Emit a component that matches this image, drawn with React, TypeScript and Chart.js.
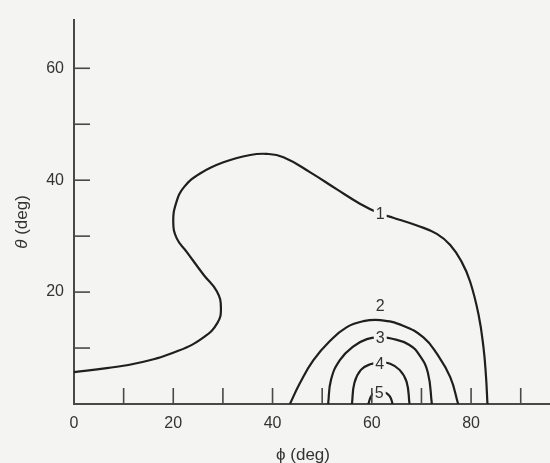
import React, { useEffect, useRef } from 'react';
import { Chart, registerables } from 'chart.js';

Chart.register(...registerables);

// Contour 1 (phi, theta in degrees)
const phi1 = [0, 6.6, 13.8, 21.0, 26.1, 28.9, 29.6, 28.8, 26.1, 22.7, 20.7, 20.0, 20.6, 22.2, 25.4, 30.1, 35.5, 38.8, 42.2, 47.6, 52.9, 57.6, 61.7, 64.3, 69.1, 73.1, 75.8, 78.1, 79.8, 81.5, 82.5, 83.0, 83.3];
const theta1 = [5.7, 6.4, 7.5, 9.5, 11.9, 14.5, 17.2, 20.1, 23.1, 27.2, 29.6, 32.5, 36.0, 38.8, 41.2, 43.2, 44.5, 44.7, 44.1, 41.4, 38.4, 35.8, 34.0, 33.3, 31.9, 30.4, 28.4, 25.4, 21.9, 16.0, 10.1, 5.0, 0];
// Contour 2
const phi2 = [43.5, 45.5, 48.2, 51.6, 54.9, 58.3, 61.7, 66.3, 70.4, 73.1, 75.8, 77.4];
const theta2 = [0, 3.7, 7.8, 11.3, 13.7, 14.8, 15.0, 14.0, 11.9, 9.0, 4.8, 0];
// Contour 3
const phi3 = [51.2, 51.8, 53.6, 56.3, 59.0, 61.7, 63.9, 67.5, 69.7, 71.3, 72.1];
const theta3 = [0, 4.4, 7.9, 10.3, 11.6, 11.9, 11.7, 10.6, 8.6, 5.6, 0];
// Contour 4
const phi4 = [56.0, 56.5, 57.8, 59.7, 61.7, 63.7, 65.6, 67.0, 67.6];
const theta4 = [0, 3.8, 6.1, 7.1, 7.4, 7.2, 6.1, 4.0, 0];
// Contour 5
const phi5 = [59.3, 60.0, 61.3, 62.4, 63.6, 64.2];
const theta5 = [0, 1.6, 2.3, 2.2, 1.4, 0];

// Contour labels
const labelText = ['1', '2', '3', '4', '5'];
const labelPhi = [61.7, 61.7, 61.7, 61.6, 61.5];
const labelTheta = [34.0, 17.6, 11.8, 7.2, 2.1];

// Axes
const xMin = 0;
const xMax = 95.9;
const yMin = 0;
const yMax = 68.7;
const tickStep = 10;
const labelStep = 20;
const xSymbol = 'ϕ';
const ySymbol = 'θ';
const unitText = ' (deg)';

const BG = '#f4f4f2';
const INK = '#1f1f1f';
const AXIS = '#484848';
const TEXT = '#333333';
const FONT = '"Liberation Sans", Arial, sans-serif';

function drawTitle(ctx: CanvasRenderingContext2D, sym: string, italicSym: boolean, cx: number, cy: number) {
  const symFont = `${italicSym ? 'italic ' : ''}17px ${FONT}`;
  const unitFont = `17px ${FONT}`;
  ctx.font = symFont;
  const w1 = ctx.measureText(sym).width;
  ctx.font = unitFont;
  const w2 = ctx.measureText(unitText).width;
  const start = cx - (w1 + w2) / 2;
  ctx.textAlign = 'left';
  ctx.textBaseline = 'middle';
  ctx.font = symFont;
  ctx.fillText(sym, start, cy);
  ctx.font = unitFont;
  ctx.fillText(unitText, start + w1, cy);
}

const decorPlugin = {
  id: 'decor',
  afterDatasetsDraw(chart: any) {
    const { ctx, scales } = chart;
    const xs = scales.x;
    const ys = scales.y;
    ctx.save();
    ctx.font = `16px ${FONT}`;
    ctx.textAlign = 'center';
    ctx.textBaseline = 'middle';
    labelText.forEach((t, i) => {
      const px = xs.getPixelForValue(labelPhi[i]);
      const py = ys.getPixelForValue(labelTheta[i]);
      const w = ctx.measureText(t).width + 4;
      ctx.fillStyle = BG;
      ctx.fillRect(px - w / 2, py - 7, w, 14);
      ctx.fillStyle = TEXT;
      ctx.fillText(t, px, py + 1);
    });
    ctx.restore();
  },
  afterDraw(chart: any) {
    const { ctx, scales, chartArea } = chart;
    const xs = scales.x;
    const ys = scales.y;
    ctx.save();
    ctx.strokeStyle = AXIS;
    ctx.lineWidth = 1.6;
    const len = 16;
    xs.ticks.forEach((t: any) => {
      if (t.value > 0 && t.value % tickStep === 0) {
        const px = xs.getPixelForValue(t.value);
        ctx.beginPath();
        ctx.moveTo(px, chartArea.bottom);
        ctx.lineTo(px, chartArea.bottom - len);
        ctx.stroke();
      }
    });
    ys.ticks.forEach((t: any) => {
      if (t.value > 0 && t.value % tickStep === 0) {
        const py = ys.getPixelForValue(t.value);
        ctx.beginPath();
        ctx.moveTo(chartArea.left, py);
        ctx.lineTo(chartArea.left + len, py);
        ctx.stroke();
      }
    });
    // axis titles
    ctx.fillStyle = TEXT;
    drawTitle(ctx, xSymbol, false, 303, 455);
    ctx.translate(22, 222);
    ctx.rotate(-Math.PI / 2);
    drawTitle(ctx, ySymbol, true, 0, 0);
    ctx.restore();
  },
};

export default function App() {
  const ref = useRef<HTMLCanvasElement>(null);
  useEffect(() => {
    document.body.style.margin = '0';
    const pts = (xs: number[], ys: number[]) => xs.map((x, i) => ({ x, y: ys[i] }));
    const curves = [
      pts(phi1, theta1),
      pts(phi2, theta2),
      pts(phi3, theta3),
      pts(phi4, theta4),
      pts(phi5, theta5),
    ];
    const chart = new Chart(ref.current as HTMLCanvasElement, {
      type: 'scatter',
      data: {
        datasets: curves.map((d, i) => ({
          label: labelText[i],
          data: d,
          showLine: true,
          borderColor: INK,
          borderWidth: 2.2,
          pointRadius: 0,
          tension: 0.45,
          fill: false,
        })),
      },
      options: {
        animation: false,
        responsive: false,
        devicePixelRatio: 1,
        layout: { padding: { top: 15, right: 0, left: 0, bottom: 0 } },
        plugins: { legend: { display: false }, tooltip: { enabled: false } },
        scales: {
          x: {
            type: 'linear',
            position: 'bottom',
            min: xMin,
            max: xMax,
            grid: { display: false, drawTicks: false },
            border: { display: true, color: AXIS, width: 2 },
            ticks: {
              stepSize: tickStep,
              includeBounds: false,
              autoSkip: false,
              maxRotation: 0,
              padding: 10,
              color: TEXT,
              font: { family: FONT, size: 16 },
              callback: (v: any) => (Number(v) % labelStep === 0 ? String(v) : ''),
            },
            afterFit: (s: any) => {
              s.height = 59;
            },
          },
          y: {
            type: 'linear',
            min: yMin,
            max: yMax,
            grid: { display: false, drawTicks: false },
            border: { display: true, color: AXIS, width: 2 },
            ticks: {
              stepSize: tickStep,
              includeBounds: false,
              autoSkip: false,
              padding: 10,
              color: TEXT,
              font: { family: FONT, size: 16 },
              callback: (v: any) => (Number(v) % labelStep === 0 && Number(v) > 0 ? String(v) : ''),
            },
            afterFit: (s: any) => {
              s.width = 74;
            },
          },
        },
      },
      plugins: [decorPlugin],
    });
    return () => chart.destroy();
  }, []);
  return (
    <div style={{ position: 'fixed', left: 0, top: 0, width: 550, height: 463, background: BG }}>
      <canvas ref={ref} width={550} height={463} style={{ display: 'block' }} />
    </div>
  );
}
